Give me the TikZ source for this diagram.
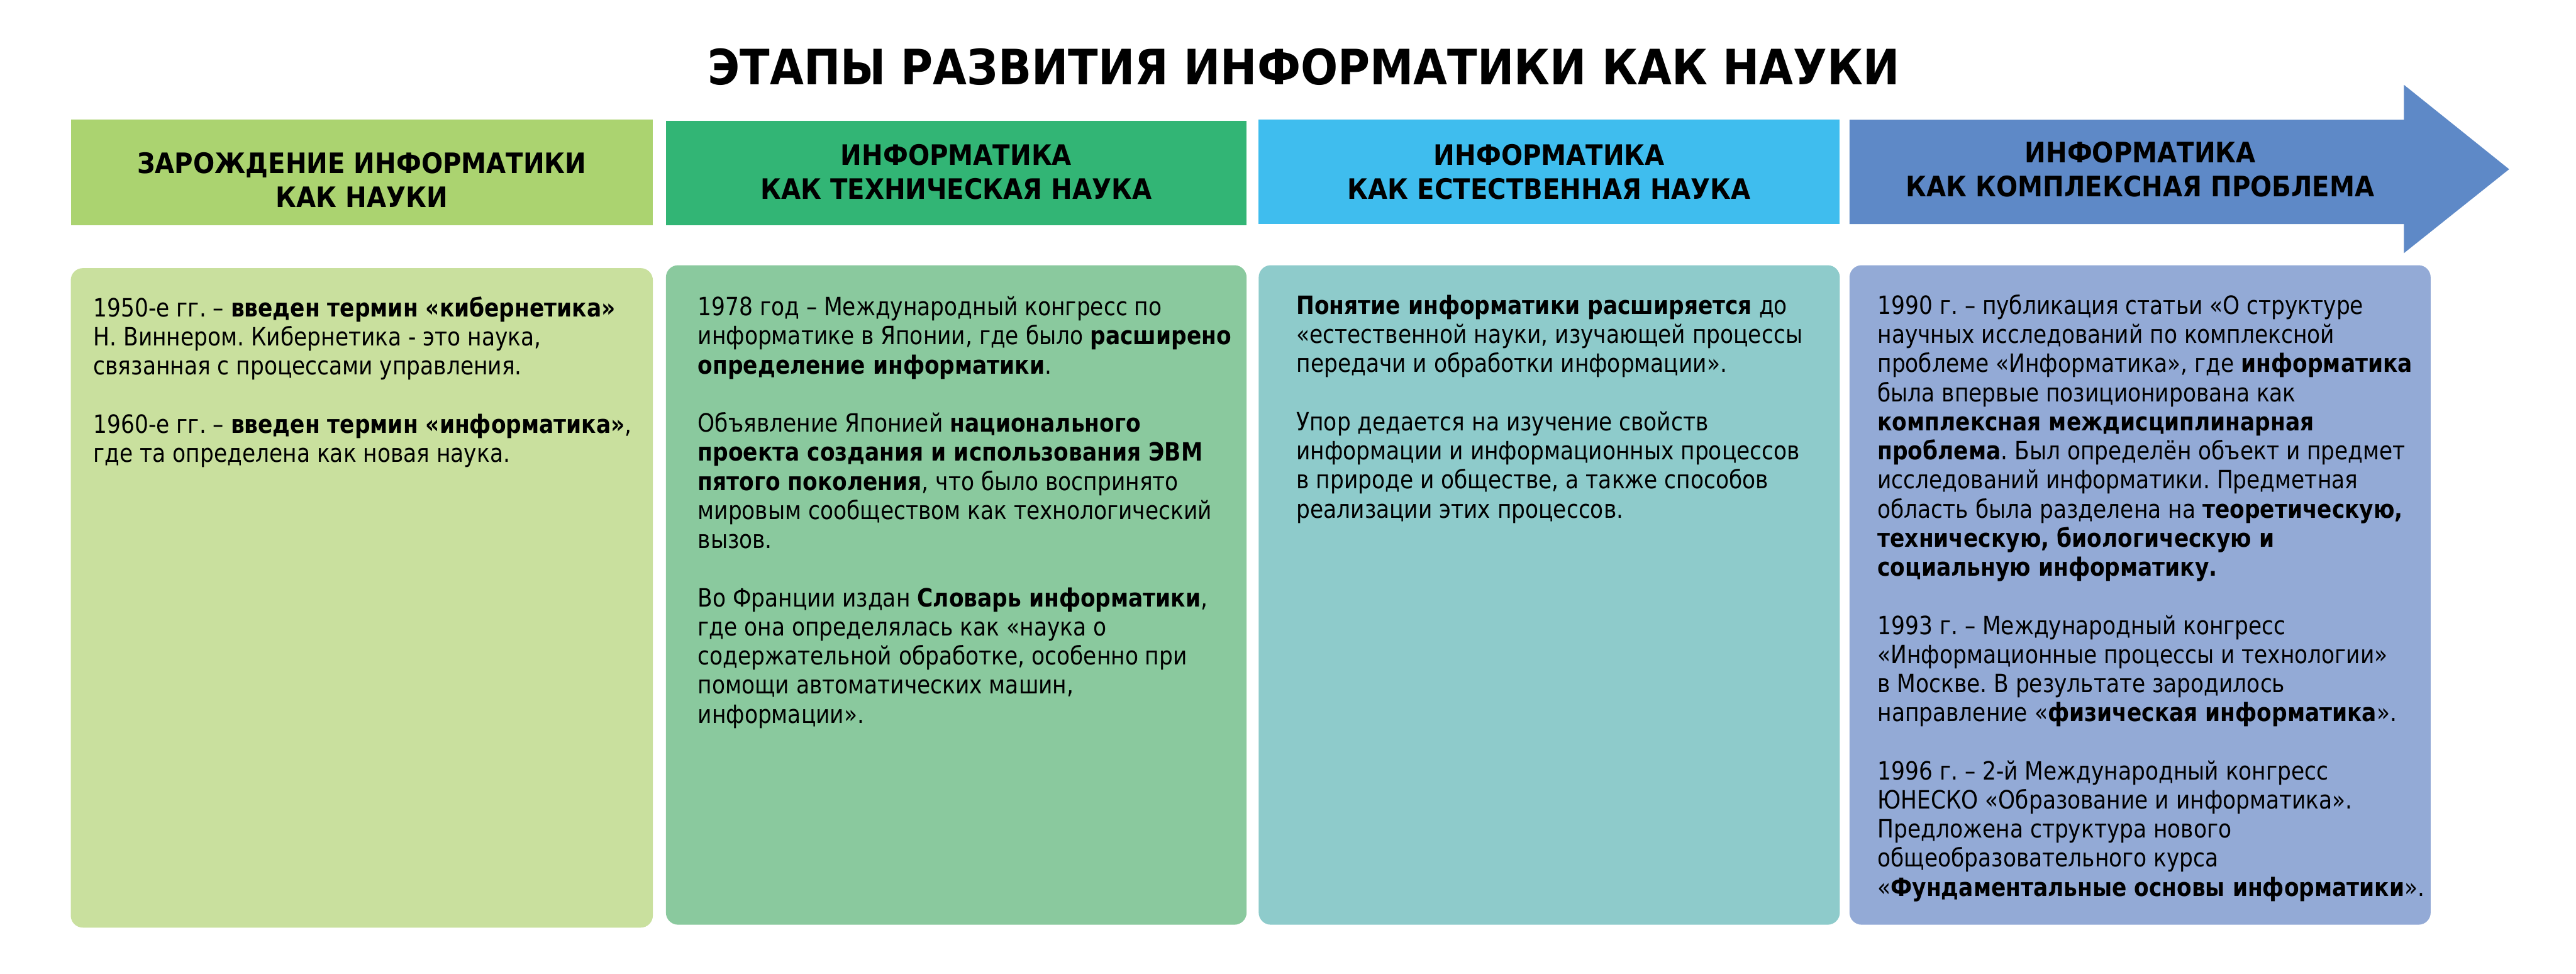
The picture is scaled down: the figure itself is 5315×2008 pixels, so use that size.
\documentclass[tikz,border=0pt]{standalone}
\usepackage{fontspec}
\setmainfont{DejaVu Sans Condensed}
\newfontfamily\bodyfont{DejaVu Sans Condensed}[FakeStretch=0.955]
\frenchspacing
\definecolor{hA}{RGB}{171,211,112}
\definecolor{hB}{RGB}{50,181,117}
\definecolor{hC}{RGB}{63,189,238}
\definecolor{hD}{RGB}{94,137,199}
\definecolor{cA}{RGB}{201,224,158}
\definecolor{cB}{RGB}{138,201,158}
\definecolor{cC}{RGB}{142,203,203}
\definecolor{cD}{RGB}{147,170,214}
\newcommand\hdtext[1]{\vtop{\hsize=230pt\centering\fontsize{11.6}{14}\selectfont\bfseries #1\par}}
\newcommand\bodytext[1]{\vtop{\hsize=240pt\raggedright\bodyfont\fontsize{10.4}{12}\selectfont\frenchspacing #1\par}}
\tikzset{
  hdbox/.style={rectangle, inner sep=0pt, outer sep=0pt, draw=none},
  contbox/.style={rectangle, rounded corners=5pt, inner sep=0pt, outer sep=0pt, draw=none, minimum height=272pt},
  hdlabel/.style={anchor=base, inner sep=0pt},
  bodylabel/.style={anchor=base west, inner sep=0pt}
}
\begin{document}
\begin{tikzpicture}[x=0.2pt,y=-0.2pt]
\useasboundingbox[fill=white] (0,0) rectangle (5315,2008);
% title
\node[anchor=base, inner sep=0pt, font=\fontsize{20.1}{24}\selectfont\bfseries] (title) at (2690,174) {ЭТАПЫ РАЗВИТИЯ ИНФОРМАТИКИ КАК НАУКИ};
% header boxes
\node[hdbox, fill=hA, minimum width=240.2pt, minimum height=43.6pt] (h1) at (746.5,356) {};
\node[hdbox, fill=hB, minimum width=239.6pt, minimum height=43.2pt] (h2) at (1973,357) {};
\node[hdbox, fill=hC, minimum width=239.8pt, minimum height=43pt] (h3) at (3196.5,354.5) {};
\fill[hD] (3816,247) -- (4960,247) -- (4960,175) -- (5177,349) -- (4960,522) -- (4960,462) -- (3816,462) -- cycle;
\node[hdlabel] (t1) at (746.5,357) {\hdtext{ЗАРОЖДЕНИЕ ИНФОРМАТИКИ\\КАК НАУКИ}};
\node[hdlabel] (t2) at (1973,341) {\hdtext{ИНФОРМАТИКА\\КАК ТЕХНИЧЕСКАЯ НАУКА}};
\node[hdlabel] (t3) at (3196.5,341) {\hdtext{ИНФОРМАТИКА\\КАК ЕСТЕСТВЕННАЯ НАУКА}};
\node[hdlabel] (t4) at (4416,336) {\hdtext{ИНФОРМАТИКА\\КАК КОМПЛЕКСНАЯ ПРОБЛЕМА}};
% content boxes
\node[contbox, fill=cA, minimum width=240.2pt] (b1) at (746.5,1233) {};
\node[contbox, fill=cB, minimum width=239.6pt] (b2) at (1973,1227) {};
\node[contbox, fill=cC, minimum width=239.8pt] (b3) at (3196.5,1227) {};
\node[contbox, fill=cD, minimum width=239.8pt] (b4) at (4415.5,1227) {};
% texts
\node[bodylabel] (p1) at (192,653) {\bodytext{%
1950-е гг. – \textbf{введен термин «кибернетика»}\\
Н. Виннером. Кибернетика - это наука,\\
связанная с процессами управления.\\[12pt]
1960-е гг. – \textbf{введен термин «информатика»},\\
где та определена как новая наука.}};
\node[bodylabel] (p2) at (1439,651) {\bodytext{%
1978 год – Международный конгресс по\\
информатике в Японии, где было \textbf{расширено}\\
\textbf{определение информатики}.\\[12pt]
Объявление Японией \textbf{национального}\\
\textbf{проекта создания и использования ЭВМ}\\
\textbf{пятого поколения}, что было воспринято\\
мировым сообществом как технологический\\
вызов.\\[12pt]
Во Франции издан \textbf{Словарь информатики},\\
где она определялась как «наука о\\
содержательной обработке, особенно при\\
помощи автоматических машин,\\
информации».}};
\node[bodylabel] (p3) at (2674,648) {\bodytext{%
\textbf{Понятие информатики расширяется} до\\
«естественной науки, изучающей процессы\\
передачи и обработки информации».\\[12pt]
Упор дедается на изучение свойств\\
информации и информационных процессов\\
в природе и обществе, а также способов\\
реализации этих процессов.}};
\node[bodylabel] (p4) at (3873,648) {\bodytext{%
1990 г. – публикация статьи «О структуре\\
научных исследований по комплексной\\
проблеме «Информатика», где \textbf{информатика}\\
была впервые позиционирована как\\
\textbf{комплексная междисциплинарная}\\
\textbf{проблема}. Был определён объект и предмет\\
исследований информатики. Предметная\\
область была разделена на \textbf{теоретическую,}\\
\textbf{техническую, биологическую и}\\
\textbf{социальную информатику.}\\[12pt]
1993 г. – Международный конгресс\\
«Информационные процессы и технологии»\\
в Москве. В результате зародилось\\
направление «\textbf{физическая информатика}».\\[12pt]
1996 г. – 2-й Международный конгресс\\
ЮНЕСКО «Образование и информатика».\\
Предложена структура нового\\
общеобразовательного курса\\
«\textbf{Фундаментальные основы информатики}».}};
\end{tikzpicture}
\end{document}
